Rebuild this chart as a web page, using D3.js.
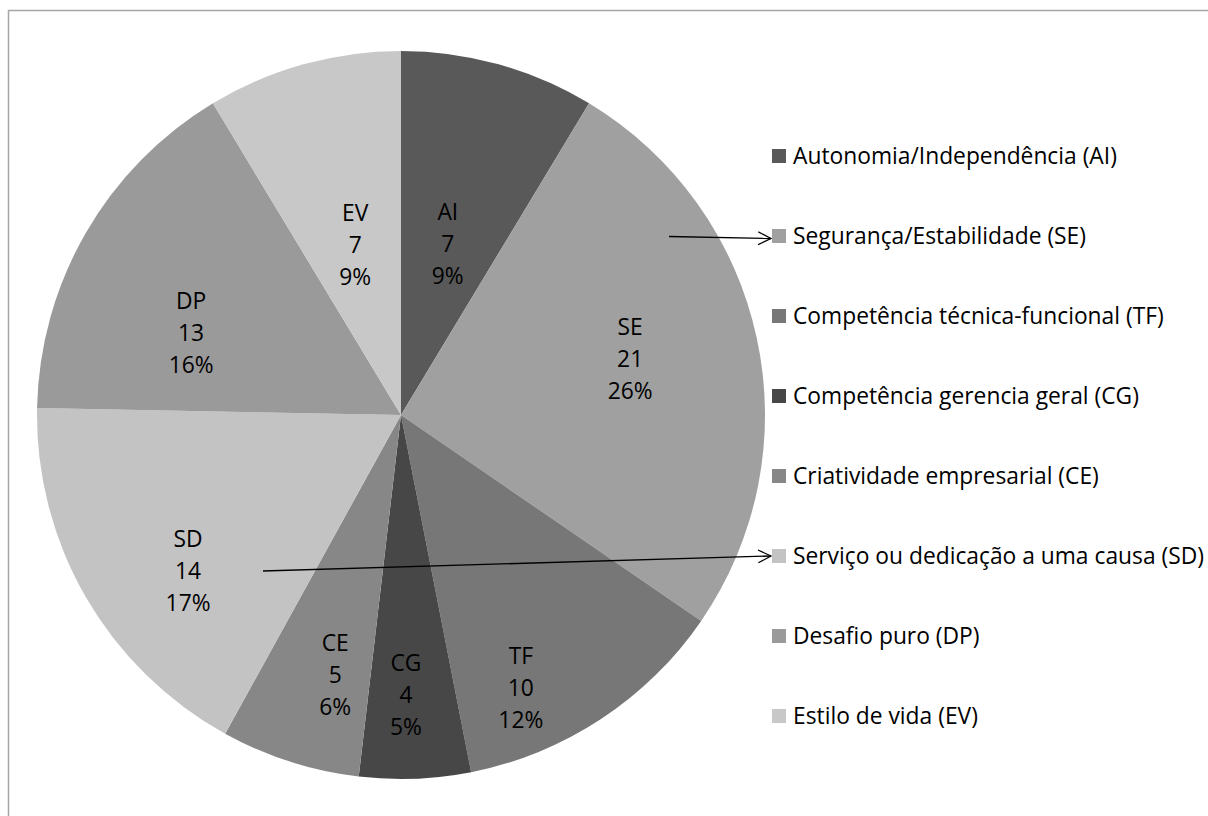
<!DOCTYPE html>
<html><head><meta charset="utf-8">
<script src="https://cdn.jsdelivr.net/npm/d3@7"></script>
<style>
html,body{margin:0;padding:0;background:#fff;overflow:hidden;}
svg{display:block;}
text{font-family:"Open Sans","Noto Sans",sans-serif;}
</style></head>
<body>
<svg id="chart" width="1208" height="816"></svg>
<script>
// ---- data ----
const codes = ["AI","SE","TF","CG","CE","SD","DP","EV"];
const names = ["Autonomia/Independência (AI)","Segurança/Estabilidade (SE)","Competência técnica-funcional (TF)","Competência gerencia geral (CG)","Criatividade empresarial (CE)","Serviço ou dedicação a uma causa (SD)","Desafio puro (DP)","Estilo de vida (EV)"];
const values = [7,21,10,4,5,14,13,7];
const percentLabels = ["9%","26%","12%","5%","6%","17%","16%","9%"];
const colors = ["#595959","#a0a0a0","#777777","#474747","#878787","#c3c3c3","#9a9a9a","#c8c8c8"];
// label placement (layout): [angle deg clockwise from top, radius fraction]
const labelPolar = [[15.3,0.487],[76.3,0.648],[156.3,0.819],[179,0.769],[194.2,0.737],[233.8,0.725],[291.3,0.619],[344.9,0.483]];

const svg = d3.select("#chart");
svg.append("rect").attr("x",8.5).attr("y",10.5).attr("width",1220).attr("height",830)
  .attr("fill","#fff").attr("stroke","#a6a6a6").attr("stroke-width",1.5);

const cx = 401, cy = 415, R = 364;
const g = svg.append("g").attr("transform",`translate(${cx},${cy})`);
const pie = d3.pie().sort(null).value(d=>d)(values);
const arc = d3.arc().innerRadius(0).outerRadius(R);
g.selectAll("path.slice").data(pie).join("path").attr("class","slice")
  .attr("d",arc).attr("fill",(d,i)=>colors[i]);

const fs = 22.8, lh = 32;
pie.forEach((d,i)=>{
  const a = labelPolar[i][0]*Math.PI/180, r = labelPolar[i][1]*R;
  const x = r*Math.sin(a), y = -r*Math.cos(a);
  const t = g.append("text").attr("text-anchor","middle").attr("font-size",fs).attr("fill","#000");
  [codes[i], String(values[i]), percentLabels[i]].forEach((s,k)=>{
    t.append("tspan").attr("x",x).attr("y",y+(k-1)*lh+8).text(s);
  });
});

// legend
const legY = d3.scalePoint().domain(codes).range([156,716]);
const leg = svg.append("g");
codes.forEach((c,i)=>{
  const y = legY(c);
  leg.append("rect").attr("x",772).attr("y",y-7).attr("width",14).attr("height",14).attr("fill",colors[i]);
  leg.append("text").attr("x",793).attr("y",y+8).attr("font-size",fs).attr("fill","#000").text(names[i]);
});

// leader arrows (annotations)
const defs = svg.append("defs");
defs.append("marker").attr("id","arr").attr("viewBox","0 0 20 20").attr("refX",18).attr("refY",10)
  .attr("markerWidth",16).attr("markerHeight",16).attr("markerUnits","userSpaceOnUse").attr("orient","auto")
  .append("path").attr("d","M2,2 L18,10 L2,18").attr("fill","none").attr("stroke","#000").attr("stroke-width",1.5);
const arrows = [[669,236.5,771,238.5],[263,571,771,556]];
arrows.forEach(a=>{
  svg.append("line").attr("x1",a[0]).attr("y1",a[1]).attr("x2",a[2]).attr("y2",a[3])
    .attr("stroke","#000").attr("stroke-width",1.3).attr("marker-end","url(#arr)");
});
</script>
</body></html>
